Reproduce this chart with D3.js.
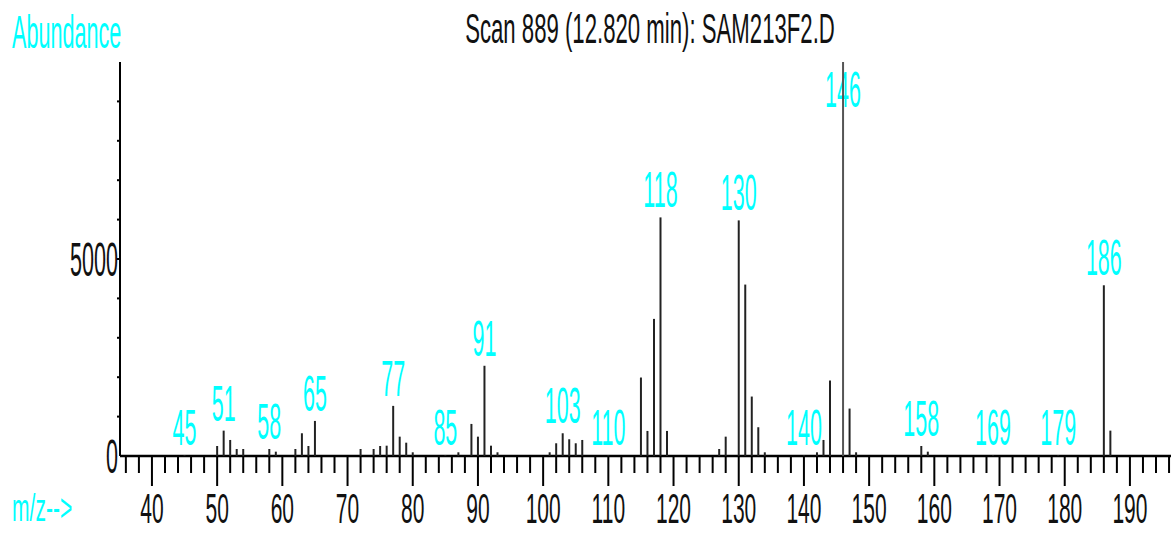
<!DOCTYPE html>
<html>
<head>
<meta charset="utf-8">
<script src="https://cdn.jsdelivr.net/npm/d3@7"></script>
<style>
  body { margin: 0; background: #fff; }
  text { font-family: "Liberation Sans", Arial, sans-serif; }
</style>
</head>
<body>
<div id="spectrum"></div>
<script>
// peak data
const mz = [45, 50, 51, 52, 53, 54, 58, 59, 62, 63, 64, 65, 72, 74, 75, 76, 77, 78, 79, 80,
  85, 87, 89, 90, 91, 92, 93, 101, 102, 103, 104, 105, 106, 110, 115, 116, 117, 118, 119,
  127, 128, 130, 131, 132, 133, 134, 140, 142, 143, 144, 146, 147, 148, 158, 159, 169, 179, 186, 187];
const abundance = [20, 254, 644, 407, 178, 178, 178, 110, 178, 577, 254, 890, 178, 178, 254, 262, 1272, 491, 338, 94,
  20, 94, 814, 491, 2290, 262, 94, 94, 323, 577, 425, 323, 407, 20, 1992, 636, 3480, 6056, 636,
  178, 491, 5980, 4351, 1509, 730, 94, 20, 94, 407, 1916, 10000, 1204, 94, 254, 110, 20, 20, 4333, 644];
const labelled = [45, 51, 58, 65, 77, 85, 91, 103, 110, 118, 130, 140, 146, 158, 169, 179, 186];
const xTicks = [40, 50, 60, 70, 80, 90, 100, 110, 120, 130, 140, 150, 160, 170, 180, 190];
const yTicks = [0, 5000];

const width = 1171;
const height = 533;
const cyan = '#00ffff';

const svg = d3.select('#spectrum').append('svg')
  .attr('width', width)
  .attr('height', height);

const xScale = d3.scaleLinear().domain([35.1, 196.3]).range([120, 1171]);
const yScale = d3.scaleLinear().domain([0, 10000]).range([456, 62]);

const peaks = mz.map((m, i) => ({mz: m, ab: abundance[i]}));

// narrow text helper (the original font is very condensed)
function narrow(sel, sx) {
  return sel.attr('transform', function(d) {
    const x = +this.getAttribute('data-x');
    const y = +this.getAttribute('data-y');
    return `translate(${x},${y}) scale(${sx},1)`;
  });
}

// title and axis captions
svg.append('text')
  .attr('data-x', 650).attr('data-y', 43)
  .attr('text-anchor', 'middle')
  .attr('font-size', 42)
  .attr('fill', '#111')
  .text('Scan 889 (12.820 min): SAM213F2.D')
  .call(narrow, 0.528);

svg.append('text')
  .attr('data-x', 12).attr('data-y', 48)
  .attr('font-size', 47)
  .attr('fill', cyan)
  .text('Abundance')
  .call(narrow, 0.46);

svg.append('text')
  .attr('data-x', 12).attr('data-y', 521)
  .attr('font-size', 39)
  .attr('fill', cyan)
  .text('m/z-->')
  .call(narrow, 0.54);

// labels first, the sticks are drawn over them
svg.append('g').selectAll('text')
  .data(peaks.filter(p => labelled.includes(p.mz)))
  .enter()
  .append('text')
  .attr('data-x', d => xScale(d.mz))
  .attr('data-y', d => Math.max(yScale(d.ab) - 10, 107))
  .attr('text-anchor', 'middle')
  .attr('font-size', 50)
  .attr('fill', cyan)
  .text(d => d.mz)
  .call(narrow, 0.43);

// x axis
const xAxis = svg.append('g');
xAxis.append('line')
  .attr('x1', xScale(35.1)).attr('x2', width)
  .attr('y1', yScale(0)).attr('y2', yScale(0))
  .attr('stroke', '#000').attr('stroke-width', 2.5);

xAxis.selectAll('line.minor')
  .data(d3.range(36, 197, 2))
  .enter()
  .append('line')
  .attr('class', 'minor')
  .attr('x1', d => xScale(d)).attr('x2', d => xScale(d))
  .attr('y1', yScale(0))
  .attr('y2', d => yScale(0) + (d % 10 === 0 ? 30 : 17))
  .attr('stroke', '#000').attr('stroke-width', 2);

xAxis.selectAll('text')
  .data(xTicks)
  .enter()
  .append('text')
  .attr('data-x', d => xScale(d))
  .attr('data-y', 523)
  .attr('text-anchor', 'middle')
  .attr('font-size', 42)
  .attr('fill', '#111')
  .text(d => d)
  .call(narrow, 0.5);

// y axis
const yAxis = svg.append('g');
yAxis.append('line')
  .attr('x1', 120).attr('x2', 120)
  .attr('y1', yScale(10000)).attr('y2', yScale(0))
  .attr('stroke', '#000').attr('stroke-width', 2);

yAxis.selectAll('line.tick')
  .data(d3.range(1000, 10000, 1000))
  .enter()
  .append('line')
  .attr('class', 'tick')
  .attr('x1', 117).attr('x2', 120)
  .attr('y1', d => yScale(d)).attr('y2', d => yScale(d))
  .attr('stroke', '#000').attr('stroke-width', 2);

yAxis.selectAll('text')
  .data(yTicks)
  .enter()
  .append('text')
  .attr('data-x', 118)
  .attr('data-y', d => yScale(d) + 17)
  .attr('text-anchor', 'end')
  .attr('font-size', 48)
  .attr('fill', '#111')
  .text(d => d)
  .call(narrow, 0.45);

// the mass sticks
svg.append('g').selectAll('line')
  .data(peaks)
  .enter()
  .append('line')
  .attr('x1', d => xScale(d.mz)).attr('x2', d => xScale(d.mz))
  .attr('y1', yScale(0))
  .attr('y2', d => yScale(d.ab))
  .attr('stroke', d => d.ab >= 10000 ? '#555' : '#222')
  .attr('stroke-width', 2);
</script>
</body>
</html>
